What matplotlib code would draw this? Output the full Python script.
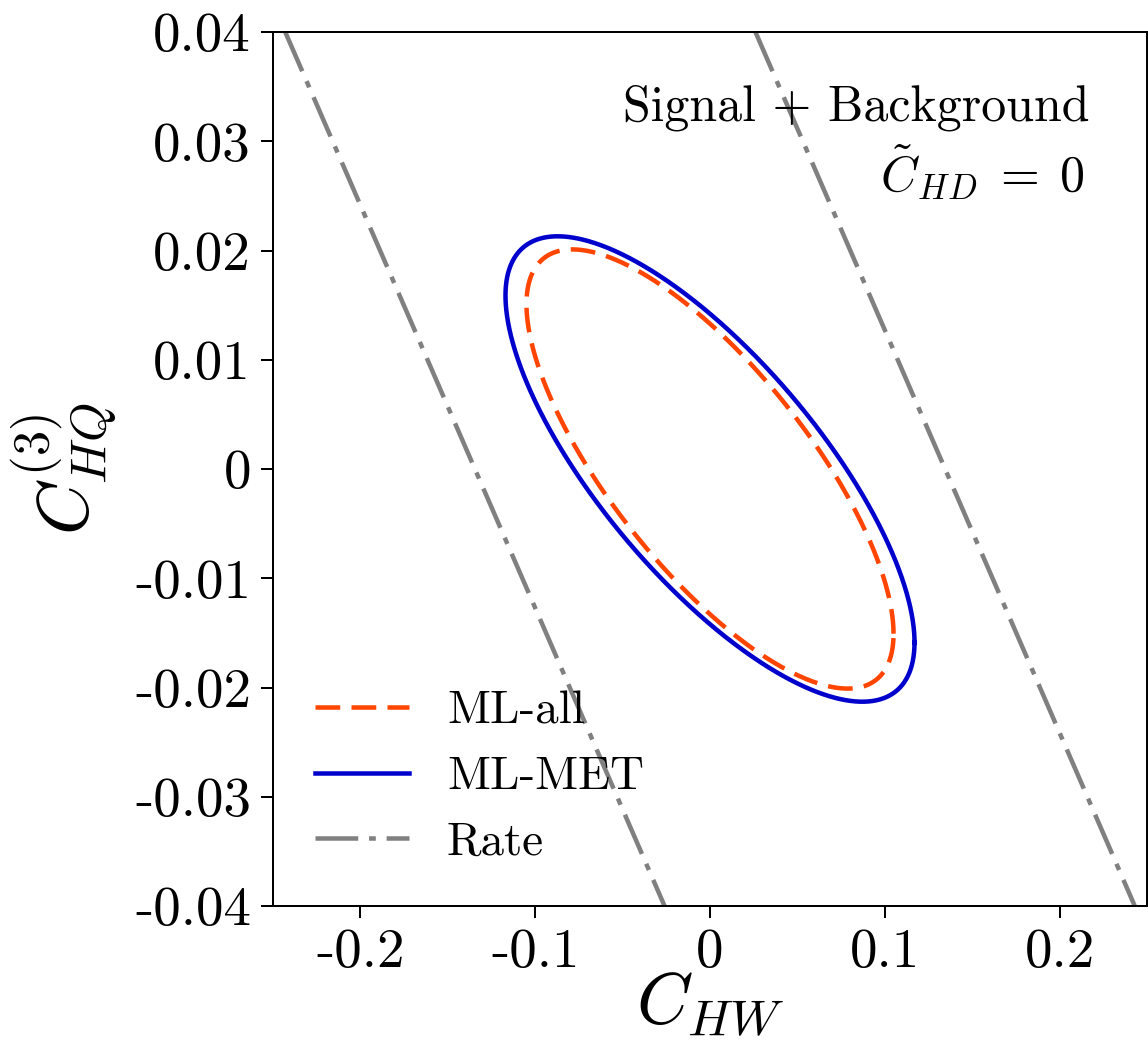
import numpy as np
import matplotlib
matplotlib.use("Agg")
import matplotlib.pyplot as plt

# ---------------- data ----------------
ellipse_labels = ["ML-all", "ML-MET"]
ellipse_half_x = [0.105, 0.117]      # max |C_HW| on contour
ellipse_half_y = [0.0201, 0.0213]    # max |C_HQ3| on contour
ellipse_corr = [-0.75, -0.745]       # tilt (correlation) of contour

rate_label = "Rate"
rate_y_ends = [0.04, -0.04]
rate_left_x = [-0.243, -0.026]
rate_right_x = [0.026, 0.243]

xticks = [-0.2, -0.1, 0.0, 0.1, 0.2]
xtick_labels = ["-0.2", "-0.1", "0", "0.1", "0.2"]
yticks = [0.04, 0.03, 0.02, 0.01, 0.0, -0.01, -0.02, -0.03, -0.04]
ytick_labels = ["0.04", "0.03", "0.02", "0.01", "0", "-0.01", "-0.02", "-0.03", "-0.04"]

# ---------------- style ----------------
plt.rcParams["font.family"] = "serif"
plt.rcParams["font.serif"] = ["cmr10"]
plt.rcParams["mathtext.fontset"] = "cm"
plt.rcParams["axes.unicode_minus"] = False
plt.rcParams["axes.formatter.use_mathtext"] = True

DPI = 72
W, H = 1148, 1046
fig = plt.figure(figsize=(W / DPI, H / DPI), dpi=DPI)
ax = fig.add_axes([273 / W, 140 / H, 874 / W, 874 / H])

colors = {"ML-all": "#FF4500", "ML-MET": "#0000CD"}
styles = {"ML-all": (0, (5.5, 2.5)), "ML-MET": "-"}

t = np.linspace(0, 2 * np.pi, 1001)
handles = []
for lab, a, b, r in zip(ellipse_labels, ellipse_half_x, ellipse_half_y, ellipse_corr):
    x = a * np.cos(t)
    y = b * (r * np.cos(t) + np.sqrt(1 - r ** 2) * np.sin(t))
    h, = ax.plot(x, y, color=colors[lab], ls=styles[lab], lw=4.5, label=lab, zorder=3)
    handles.append(h)

rate_ls = (0, (9.5, 2.4, 1.5, 2.4))
h, = ax.plot(rate_left_x, rate_y_ends, color="gray", ls=rate_ls, lw=4.5, label=rate_label, zorder=2)
ax.plot(rate_right_x, rate_y_ends, color="gray", ls=rate_ls, lw=4.5, zorder=2)
handles.append(h)

ax.set_xlim(-0.25, 0.25)
ax.set_ylim(-0.04, 0.04)
ax.set_xticks(xticks)
ax.set_xticklabels(xtick_labels)
ax.set_yticks(yticks)
ax.set_yticklabels(ytick_labels)
ax.tick_params(axis="both", which="major", length=12, width=2, labelsize=55, pad=10)
for s in ax.spines.values():
    s.set_linewidth(2)

ax.set_xlabel(r"$C_{HW}$", fontsize=72)
ax.set_ylabel(r"$C_{HQ}^{(3)}$", fontsize=72)
ax.xaxis.set_label_coords(0.5, -0.074)
ax.yaxis.set_label_coords(-0.175, 0.5)

ax.legend(handles=handles, loc="lower left", frameon=False, fontsize=47,
          handlelength=2.0, borderaxespad=0.5)

ax.text(0.934, 0.899, "Signal + Background", transform=ax.transAxes,
        ha="right", va="baseline", fontsize=50)
ax.text(0.929, 0.817, r"$\tilde{C}_{HD}\;=\;0$", transform=ax.transAxes,
        ha="right", va="baseline", fontsize=50)

fig.savefig("out.png", dpi=DPI)
